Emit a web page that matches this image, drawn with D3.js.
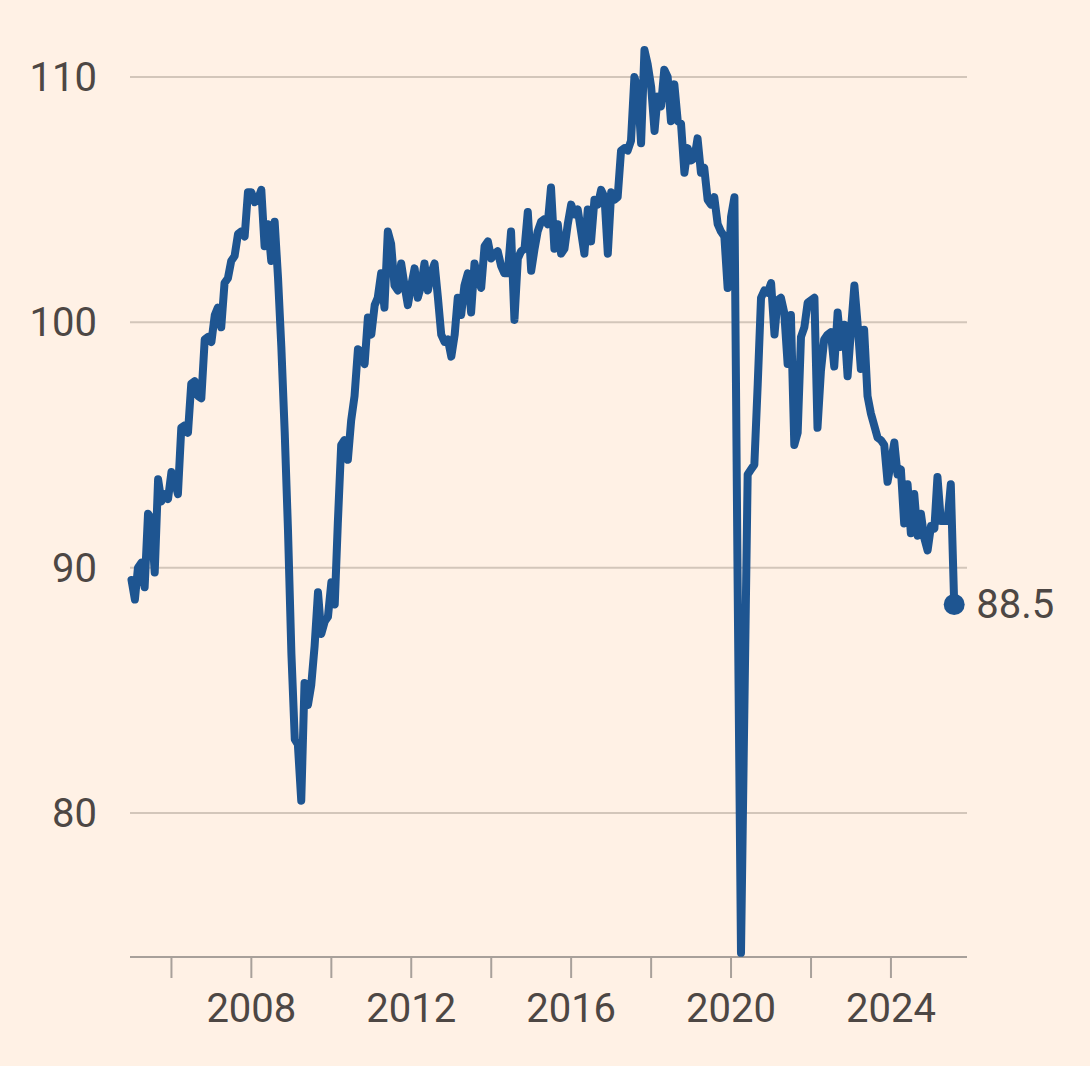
<!DOCTYPE html>
<html>
<head>
<meta charset="utf-8">
<script src="https://cdn.jsdelivr.net/npm/d3@7"></script>
<style>
  html, body { margin: 0; padding: 0; background: #fff1e5; }
  svg { display: block; }
  .tick-label { font-family: Roboto, "Open Sans", sans-serif; font-size: 40px; fill: #4d4744; }
</style>
</head>
<body>
<script>
// monthly index, Jan 2005 -> Aug 2025
const startYear = 2005;
const v2005 = [89.5, 88.7, 90.0, 90.2, 89.2, 92.2, 92.0, 89.8, 93.6, 92.7, 93.0, 92.8];
const v2006 = [93.9, 93.5, 93.0, 95.7, 95.8, 95.5, 97.5, 97.6, 97.0, 96.9, 99.3, 99.4];
const v2007 = [99.2, 100.3, 100.6, 99.8, 101.6, 101.8, 102.5, 102.7, 103.6, 103.7, 103.5, 105.3];
const v2008 = [105.3, 104.9, 105.0, 105.4, 103.1, 104.0, 102.5, 104.1, 101.8, 99.0, 95.5, 91.5];
const v2009 = [86.5, 83.0, 82.8, 80.5, 85.3, 84.4, 85.2, 86.8, 89.0, 87.3, 87.8, 88.0];
const v2010 = [89.4, 88.5, 91.8, 95.0, 95.2, 94.4, 96.0, 97.0, 98.9, 98.8, 98.3, 100.2];
const v2011 = [99.5, 100.7, 101.0, 102.0, 100.6, 103.7, 103.2, 101.5, 101.3, 102.4, 101.5, 100.7];
const v2012 = [101.5, 102.2, 101.0, 101.5, 102.4, 101.3, 102.0, 102.4, 101.0, 99.5, 99.2, 99.3];
const v2013 = [98.6, 99.5, 101.0, 100.3, 101.5, 102.0, 100.4, 102.4, 101.8, 101.4, 103.1, 103.3];
const v2014 = [102.6, 102.8, 102.9, 102.3, 102.0, 102.0, 103.7, 100.1, 102.6, 102.9, 103.0, 104.5];
const v2015 = [102.1, 103.0, 103.7, 104.1, 104.2, 104.0, 105.5, 103.0, 104.0, 102.8, 103.0, 104.0];
const v2016 = [104.8, 104.4, 104.6, 103.7, 102.8, 104.6, 103.3, 105.0, 104.8, 105.4, 105.1, 102.8];
const v2017 = [105.3, 105.0, 105.1, 107.0, 107.1, 107.0, 107.4, 110.0, 109.5, 107.3, 111.1, 110.5];
const v2018 = [109.6, 107.8, 109.2, 108.8, 110.3, 110.0, 108.2, 109.7, 108.2, 108.1, 106.1, 107.1];
const v2019 = [106.6, 106.7, 107.5, 106.1, 106.3, 105.0, 104.8, 105.1, 104.0, 103.7, 103.5, 101.4];
const v2020 = [104.3, 105.1, 89.5, 74.3, 84.0, 93.8, 94.0, 94.2, 97.5, 101.0, 101.3, 101.2];
const v2021 = [101.6, 99.5, 100.9, 101.0, 100.4, 98.3, 100.3, 95.0, 95.5, 99.4, 99.8, 100.8];
const v2022 = [100.9, 101.0, 95.7, 98.0, 99.3, 99.5, 99.6, 98.2, 100.4, 99.0, 99.9, 97.8];
const v2023 = [99.7, 101.5, 100.0, 98.1, 99.7, 97.0, 96.3, 95.8, 95.3, 95.2, 95.0, 93.5];
const v2024 = [94.3, 95.1, 93.8, 94.0, 91.8, 93.4, 91.4, 93.0, 91.3, 92.2, 91.2, 90.7];
const v2025 = [91.7, 91.6, 93.7, 91.9, 91.9, 91.9, 93.4, 88.5];

const values = [].concat(v2005, v2006, v2007, v2008, v2009, v2010, v2011, v2012, v2013,
    v2014, v2015, v2016, v2017, v2018, v2019, v2020, v2021, v2022, v2023, v2024, v2025);

const yTicks = [80, 90, 100, 110];
const xTickYears = [2006, 2008, 2010, 2012, 2014, 2016, 2018, 2020, 2022, 2024];
const xLabelYears = [2008, 2012, 2016, 2020, 2024];

const data = values.map((v, i) => ({ date: new Date(startYear, i, 1), value: v }));
const last = data[data.length - 1];

const width = 1090;
const height = 1066;

const svg = d3.select("body").append("svg")
    .attr("width", width)
    .attr("height", height);

const x = d3.scaleTime()
    .domain([new Date(2005, 0, 1), new Date(2025, 10, 26)])
    .range([131.5, 967]);

const y = d3.scaleLinear()
    .domain([80, 110])
    .range([813, 77]);

const yBottom = 74.13;

// gridlines
svg.append("g")
    .selectAll("line")
    .data(yTicks)
    .join("line")
    .attr("x1", 130)
    .attr("x2", 967)
    .attr("y1", d => y(d))
    .attr("y2", d => y(d))
    .attr("stroke", "#d3c6ba")
    .attr("stroke-width", 2);

// y labels
svg.append("g")
    .selectAll("text")
    .data(yTicks)
    .join("text")
    .attr("class", "tick-label")
    .attr("x", 97)
    .attr("y", d => y(d))
    .attr("dy", "0.35em")
    .attr("text-anchor", "end")
    .text(d => d);

// x axis
const baseY = y(yBottom);
svg.append("line")
    .attr("x1", 130)
    .attr("x2", 967)
    .attr("y1", baseY)
    .attr("y2", baseY)
    .attr("stroke", "#a8a09a")
    .attr("stroke-width", 2);

svg.append("g")
    .selectAll("line")
    .data(xTickYears)
    .join("line")
    .attr("x1", d => x(new Date(d, 0, 1)))
    .attr("x2", d => x(new Date(d, 0, 1)))
    .attr("y1", baseY)
    .attr("y2", baseY + 21)
    .attr("stroke", "#a8a09a")
    .attr("stroke-width", 2);

svg.append("g")
    .selectAll("text")
    .data(xLabelYears)
    .join("text")
    .attr("class", "tick-label")
    .attr("x", d => x(new Date(d, 0, 1)))
    .attr("y", 1008)
    .attr("dy", "0.35em")
    .attr("text-anchor", "middle")
    .text(d => d);

// line
const line = d3.line()
    .x(d => x(d.date))
    .y(d => y(d.value));

svg.append("path")
    .datum(data)
    .attr("fill", "none")
    .attr("stroke", "#1e5591")
    .attr("stroke-width", 8)
    .attr("stroke-linejoin", "round")
    .attr("stroke-linecap", "round")
    .attr("d", line);

// end marker
svg.append("circle")
    .attr("cx", x(last.date))
    .attr("cy", y(last.value))
    .attr("r", 10.5)
    .attr("fill", "#1e5591");

svg.append("text")
    .attr("class", "tick-label")
    .attr("x", x(last.date) + 22)
    .attr("y", y(last.value))
    .attr("dy", "0.35em")
    .text(last.value.toFixed(1));
</script>
</body>
</html>
